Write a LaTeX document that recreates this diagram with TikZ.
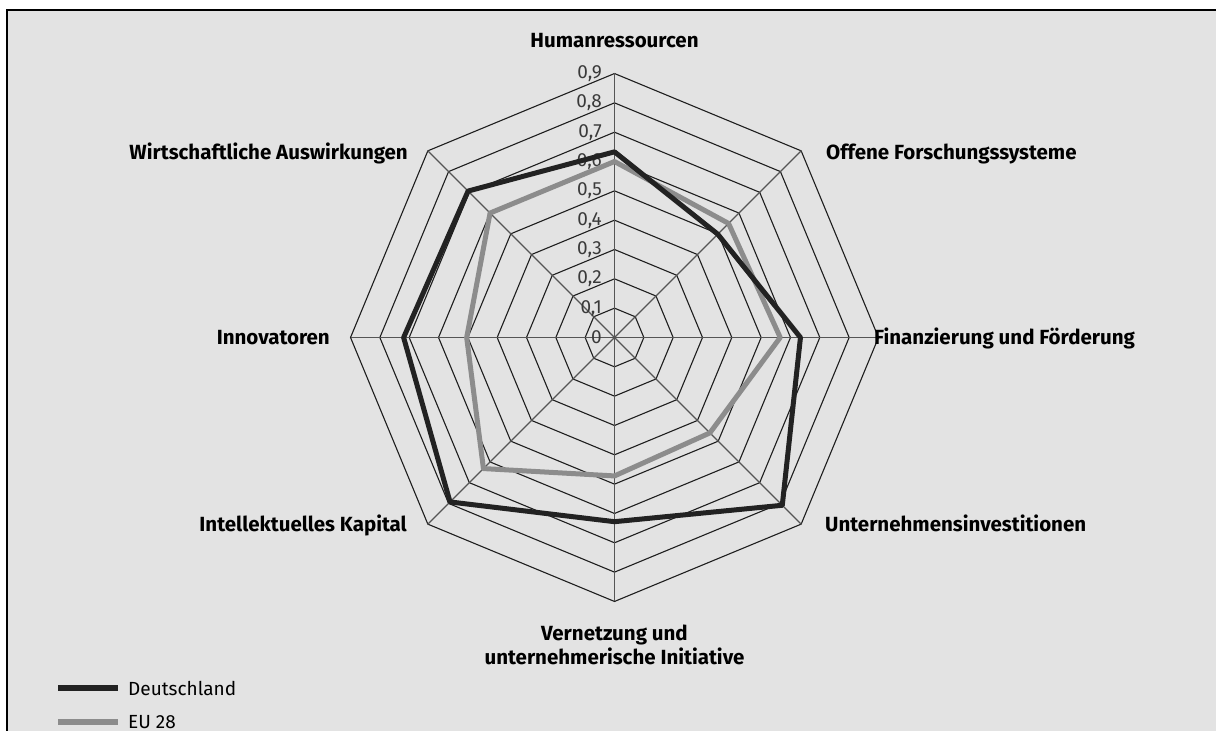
\documentclass[tikz,border=0pt]{standalone}
\usepackage{fontspec}
\setmainfont{Fira Sans}
\definecolor{panel}{HTML}{E3E3E3}
\definecolor{deu}{HTML}{222222}
\definecolor{eu}{HTML}{8C8C8C}
\definecolor{ring}{HTML}{1E1E1E}
\definecolor{spoke}{HTML}{555555}
\definecolor{ticktxt}{HTML}{3A3A3A}
\begin{document}
\begin{tikzpicture}[x=1pt,y=1pt,
  ringline/.style={draw=ring,line width=1.1pt,line join=miter},
  spokeline/.style={draw=spoke,line width=1.1pt},
  series/.style={line width=5pt,line join=round,line cap=round},
  lab/.style={font=\fontsize{20.5}{24}\selectfont\bfseries,text=black,inner sep=0pt},
  ticklab/.style={font=\fontsize{19}{22}\selectfont,text=ticktxt,inner sep=0pt,anchor=east},
  legtxt/.style={font=\fontsize{19}{22}\selectfont,text=black,inner sep=0pt,anchor=west}]
\useasboundingbox (0,0) rectangle (1216,731);
\clip (0,0) rectangle (1216,731);
\fill[white] (0,0) rectangle (1216,731);
\fill[panel] (7,0) rectangle (1216,721);
\draw[line width=2.2pt] (7,0) -- (7,721) -- (1216,721);

\begin{scope}[shift={(614.5,393.5)}]
  % concentric octagons, 0.1 per ring
  \foreach \k in {1,...,9}{
    \pgfmathsetmacro{\r}{\k*29.33}
    \draw[ringline] (90:\r) -- (45:\r) -- (0:\r) -- (-45:\r) -- (-90:\r)
      -- (-135:\r) -- (180:\r) -- (135:\r) -- cycle;
  }
  % axis ends
  \foreach \i/\a in {1/90,2/45,3/0,4/-45,5/-90,6/-135,7/180,8/135}{
    \coordinate (ax\i) at (\a:264);
  }
  \coordinate (c) at (0,0);
  \foreach \i in {1,...,8}{ \draw[spokeline] (c) -- (ax\i); }

  % scale labels on the vertical axis
  \node[ticklab] (t0) at (-12.5,0) {0};
  \foreach \k in {1,...,9}{
    \node[ticklab] (t\k) at (-12.5,\k*29.33) {0,\k};
  }

  % EU 28
  \draw[series,draw=eu]
    (90:0.600*293.3) -- (45:0.550*293.3) -- (0:0.565*293.3) -- (-45:0.460*293.3)
    -- (-90:0.472*293.3) -- (-135:0.632*293.3) -- (180:0.504*293.3) -- (135:0.600*293.3) -- cycle;
  % Deutschland
  \draw[series,draw=deu]
    (90:0.633*293.3) -- (45:0.498*293.3) -- (0:0.634*293.3) -- (-45:0.809*293.3)
    -- (-90:0.628*293.3) -- (-135:0.793*293.3) -- (180:0.719*293.3) -- (135:0.706*293.3) -- cycle;
\end{scope}

% axis titles
\node[lab,anchor=base] (hr) at (614.5,683) {Humanressourcen};
\node[lab,anchor=base west] (of) at (826,571) {Offene Forschungssysteme};
\node[lab,anchor=base west] (ff) at (874,386) {Finanzierung und Förderung};
\node[lab,anchor=base west] (ui) at (825,199) {Unternehmensinvestitionen};
\node[lab,anchor=north,align=center] (vu) at (614.5,106.5) {Vernetzung und\\unternehmerische Initiative};
\node[lab,anchor=base east] (ik) at (407,199) {Intellektuelles Kapital};
\node[lab,anchor=base east] (in) at (330,386) {Innovatoren};
\node[lab,anchor=base east] (wa) at (408,571) {Wirtschaftliche Auswirkungen};

% legend
\coordinate (l1a) at (58,42.7); \coordinate (l1b) at (118,42.7);
\coordinate (l2a) at (58,9.3);  \coordinate (l2b) at (118,9.3);
\draw[line width=6pt,draw=deu] (l1a) -- (l1b);
\draw[line width=6pt,draw=eu] (l2a) -- (l2b);
\node[legtxt] (ld) at (128,42.7) {Deutschland};
\node[legtxt] (le) at (128,9.3) {EU 28};
\end{tikzpicture}
\end{document}
